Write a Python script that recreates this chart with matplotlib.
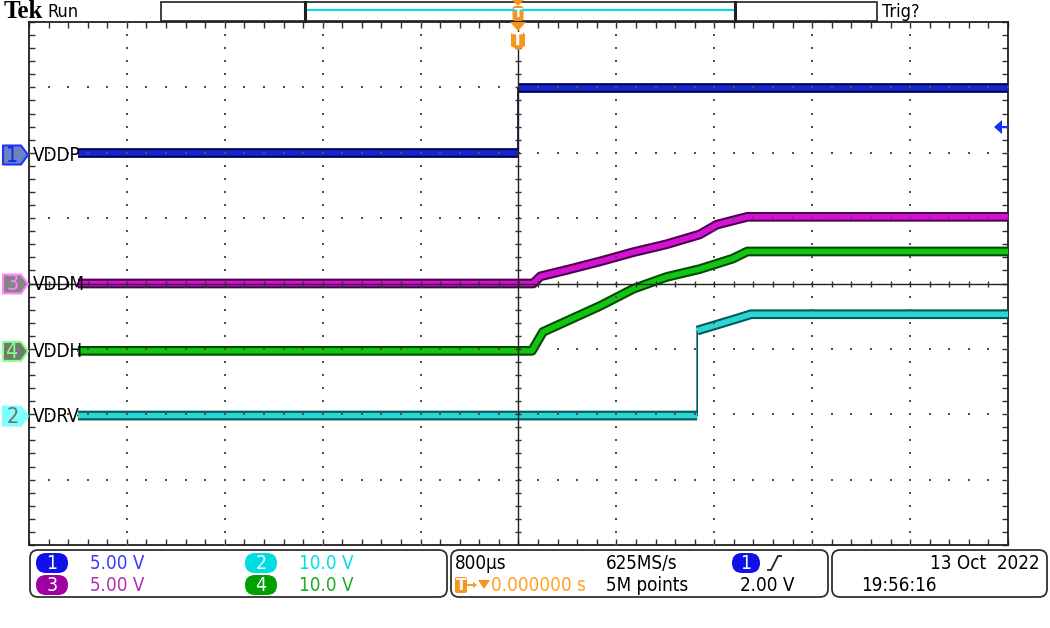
import matplotlib
matplotlib.use('Agg')
import matplotlib.pyplot as plt
import matplotlib.patheffects as pe
from matplotlib import font_manager as fm
from matplotlib.patches import Polygon, FancyBboxPatch, Rectangle
import numpy as np

TIME_PER_DIV = 0.8  # ms / div (800 us)

# traces: time in ms, value in volts
ch1_t = [-3.6, 0.0, 0.0, 4.0]            # VDDP
ch1_v = [0.0, 0.0, 4.95, 4.95]
ch3_t = [-3.6, 0.12, 0.18, 0.40, 0.67, 0.94, 1.21, 1.48, 1.62, 1.87, 4.0]   # VDDM
ch3_v = [0.0, 0.0, 0.55, 1.05, 1.7, 2.4, 3.0, 3.75, 4.5, 5.1, 5.1]
ch4_t = [-3.6, 0.11, 0.20, 0.40, 0.67, 0.94, 1.21, 1.48, 1.75, 1.87, 4.0]   # VDDH
ch4_v = [0.0, 0.0, 2.9, 4.6, 6.9, 9.5, 11.3, 12.5, 14.1, 15.2, 15.2]
ch2_t = [-3.6, 1.46, 1.46, 1.62, 1.78, 1.90, 4.0]                           # VDRV
ch2_v = [0.0, 0.0, 13.0, 13.9, 14.8, 15.5, 15.5]

ch_labels = ['VDDP', 'VDRV', 'VDDM', 'VDDH']
ch_scale = [5.0, 10.0, 5.0, 10.0]
ch_offset = [2.0, -2.02, 0.0, -1.03]
scale_text = ['5.00 V', '10.0 V', '5.00 V', '10.0 V']
trig_level = 2.0  # V on ch1

# narrow scope-like font if we can find one
_narrow = None
for f in fm.fontManager.ttflist:
    if 'LiberationSansNarrow-Regular' in f.fname or 'DejaVuSansCondensed.ttf' in f.fname:
        _narrow = f.fname
        break


def font(size, weight='normal'):
    if _narrow:
        return fm.FontProperties(fname=_narrow, size=size)
    return fm.FontProperties(family='Roboto', size=size, weight=weight)


fig = plt.figure(figsize=(10.5, 6.28), dpi=100)
fig.patch.set_facecolor('white')

ax = fig.add_axes([29 / 1050, 83 / 628, 979 / 1050, 523 / 628])
ax.set_xlim(-5 * TIME_PER_DIV, 5 * TIME_PER_DIV)
ax.set_ylim(-4, 4)
for s in ax.spines.values():
    s.set_linewidth(1.3)
    s.set_color('#202020')
ax.set_xticks(np.arange(-4, 4.01, TIME_PER_DIV))
ax.set_xticks(np.arange(-4, 4.01, TIME_PER_DIV / 5), minor=True)
ax.set_yticks(np.arange(-4, 4.01, 1))
ax.set_yticks(np.arange(-4, 4.01, 0.2), minor=True)
ax.tick_params(which='both', direction='in', top=True, right=True, length=4,
               width=1, color='#303030', labelbottom=False, labelleft=False)

# traces
trace_style = [
    ('#1428C8', '#00005A'),   # ch1
    ('#2CD4D4', '#005A5A'),   # ch2
    ('#D214D2', '#500050'),   # ch3
    ('#14C414', '#004C00'),   # ch4
]
traces = [(ch1_t, ch1_v), (ch2_t, ch2_v), (ch3_t, ch3_v), (ch4_t, ch4_v)]
for i, (t, v) in enumerate(traces):
    t = np.array(t)
    y = ch_offset[i] + np.array(v) / ch_scale[i]
    core, edge = trace_style[i]
    ax.plot(t, y, color=edge, lw=1.2, zorder=3)
    # break the thick band at vertical steps
    tb, yb = [t[0]], [y[0]]
    for k in range(1, len(t)):
        if t[k] == t[k - 1]:
            tb.append(np.nan)
            yb.append(np.nan)
        tb.append(t[k])
        yb.append(y[k])
    ax.plot(tb, yb, color=core, lw=4.0, solid_capstyle='butt', zorder=4,
            path_effects=[pe.Stroke(linewidth=7.0, foreground=edge), pe.Normal()])

# graticule dots
gx = np.arange(-4, 4.01, TIME_PER_DIV)
for x in gx:
    if abs(x) < 1e-9 or abs(abs(x) - 4) < 1e-9:
        continue
    yy = np.arange(-4, 4.01, 0.2)
    ax.scatter(np.full_like(yy, x), yy, s=2.2, marker='s', color='#505050', lw=0, zorder=6)
for yv in [-3, -2, -1, 1, 2, 3]:
    xx = np.arange(-4, 4.01, TIME_PER_DIV / 5)
    ax.scatter(xx, np.full_like(xx, yv), s=2.2, marker='s', color='#505050', lw=0, zorder=6)

ax.axhline(0, color='#202020', lw=1.0, zorder=7)
ax.axvline(0, color='#202020', lw=1.0, zorder=7)
xm = np.arange(-4, 4.01, TIME_PER_DIV / 5)
ax.plot(xm, np.zeros_like(xm), ls='none', marker='|', ms=5, mew=1, color='#303030', zorder=7)
ym = np.arange(-4, 4.01, 0.2)
ax.plot(np.zeros_like(ym), ym, ls='none', marker='_', ms=5, mew=1, color='#303030', zorder=7)

# decoration layer in pixel coords
deco = fig.add_axes([0, 0, 1, 1], zorder=10)
deco.set_xlim(0, 1050)
deco.set_ylim(628, 0)
deco.axis('off')
deco.patch.set_alpha(0)

deco.text(4, 12, 'Tek', family='Liberation Serif', weight='bold', fontsize=18,
          va='center', ha='left', color='black')
deco.text(47, 12, 'Run', fontproperties=font(13), va='center', ha='left')
deco.text(882, 12, 'Trig?', fontproperties=font(13), va='center', ha='left')

deco.add_patch(Rectangle((161, 2), 716, 19, fc='white', ec='#202020', lw=1.2))
deco.plot([305, 735], [10, 10], color='#00DDEE', lw=1.5)
deco.plot([305, 305], [2, 21], color='#202020', lw=2.2)
deco.plot([735, 735], [2, 21], color='#202020', lw=2.2)

ORANGE = '#F7941D'
deco.add_patch(Polygon([(512, 0), (524, 0), (518, 6)], closed=True, fc=ORANGE, ec='none'))
deco.add_patch(FancyBboxPatch((512.5, 6), 11, 15, boxstyle='round,pad=0,rounding_size=3',
                              fc=ORANGE, ec='none'))
deco.text(518, 13.5, 'T', color='white', fontsize=9, weight='bold', ha='center', va='center')
deco.add_patch(Polygon([(510, 22), (526, 22), (518, 31)], closed=True, fc=ORANGE, ec='none'))
deco.add_patch(Polygon([(511, 34), (513, 32), (523, 32), (525, 34), (525, 46), (518, 50),
                        (511, 46)], closed=True, fc=ORANGE, ec='none'))
deco.text(518, 40, 'T', color='white', fontsize=12, weight='bold', ha='center', va='center')

# channel markers on the left
marker_style = [
    ('#6C82BE', '#2233FF', '#1428E0'),   # ch1 fill, border, number
    ('#80FFFF', '#80FFFF', '#707070'),   # ch2
    ('#858585', '#FF88FF', '#FF88FF'),   # ch3
    ('#707A70', '#88FF88', '#88FF88'),   # ch4
]
for i, name in enumerate(ch_labels):
    yc = 284 - ch_offset[i] * 65.4
    if i == 0:
        yc = 155
    fc, ec, tc = marker_style[i]
    pts = [(3, yc - 9.5), (21, yc - 9.5), (28, yc), (21, yc + 9.5), (3, yc + 9.5)]
    deco.add_patch(Polygon(pts, closed=True, fc=fc, ec=ec, lw=1.5, joinstyle='round'))
    deco.text(12.5, yc + 0.5, str(i + 1), color=tc, fontproperties=font(15.5),
              ha='center', va='center')
    deco.text(33, yc + 0.5, name, color='black', fontproperties=font(13.5),
              ha='left', va='center')

# trigger level arrow (right edge)
ty = 284 - (ch_offset[0] + trig_level / ch_scale[0]) * 65.4
deco.add_patch(Polygon([(994, ty), (1002, ty - 7), (1002, ty + 7)], closed=True,
                       fc='#1030FF', ec='none'))
deco.plot([1000, 1008], [ty, ty], color='#1030FF', lw=1.5)

# bottom readout panels
for (x0, x1) in [(30, 447), (451, 828), (832, 1047)]:
    deco.add_patch(FancyBboxPatch((x0, 550), x1 - x0, 47,
                                  boxstyle='round,pad=0,rounding_size=8',
                                  fc='white', ec='#303030', lw=1.3))


def badge(cx, cy, w, h, color, txt):
    deco.add_patch(FancyBboxPatch((cx - w / 2, cy - h / 2), w, h,
                                  boxstyle='round,pad=0,rounding_size=%g' % (h / 2),
                                  fc=color, ec='none'))
    deco.text(cx, cy + 0.5, txt, color='white', fontproperties=font(14),
              ha='center', va='center')


badge_cols = ['#1010E8', '#00DDE0', '#A000A0', '#00A000']
text_cols = ['#3A3AFF', '#00DDE8', '#B030B0', '#20AA20']
pos = [(52, 563), (261, 563), (52, 585), (261, 585)]
for i in range(4):
    cx, cy = pos[i]
    badge(cx, cy, 32, 20, badge_cols[i], str(i + 1))
    deco.text(cx + 38, cy + 0.5, scale_text[i], color=text_cols[i], fontproperties=font(13.5),
              ha='left', va='center')

deco.text(455, 563.5, '800µs', fontproperties=font(13.5), ha='left', va='center')
deco.text(606, 563.5, '625MS/s', fontproperties=font(13.5), ha='left', va='center')
deco.text(606, 585.5, '5M points', fontproperties=font(13.5), ha='left', va='center')
badge(746, 563, 28, 20, '#1010E8', '1')
deco.plot([768, 771, 778, 781], [570, 570, 556, 556], color='#202020', lw=1.3)
deco.text(740, 585.5, '2.00 V', fontproperties=font(13.5), ha='left', va='center')

deco.add_patch(FancyBboxPatch((455, 577), 12, 16, boxstyle='round,pad=0,rounding_size=2',
                              fc=ORANGE, ec='none'))
deco.text(461, 585.5, 'T', color='white', fontsize=11, weight='bold', ha='center', va='center')
deco.plot([467, 475], [585, 585], color=ORANGE, lw=1.3)
deco.add_patch(Polygon([(473, 582), (477, 585), (473, 588)], closed=True, fc=ORANGE, ec='none'))
deco.add_patch(Polygon([(478, 580), (490, 580), (484, 589)], closed=True, fc=ORANGE, ec='none'))
deco.text(491, 585.5, '0.000000 s', color='#FFA020', fontproperties=font(13.5),
          ha='left', va='center')

deco.text(1040, 563.5, '13 Oct  2022', fontproperties=font(13.5), ha='right', va='center')
deco.text(861, 585.5, '19:56:16', fontproperties=font(13.5), ha='left', va='center')

fig.savefig('out.png', dpi=100)
